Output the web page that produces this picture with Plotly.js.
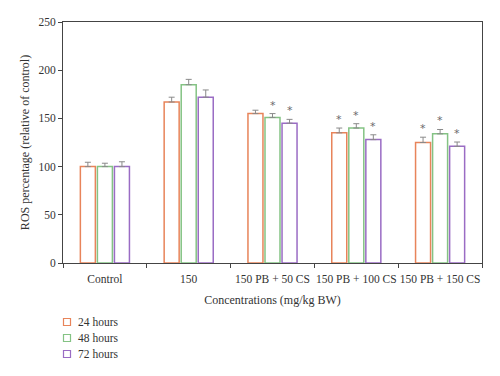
<!DOCTYPE html>
<html>
<head>
<meta charset="utf-8">
<script src="https://cdn.plot.ly/plotly-3.0.1.min.js"></script>
<style>html,body{margin:0;padding:0;background:#fff;}#chart{width:500px;height:376px;}</style>
</head>
<body>
<div id="chart"></div>
<script>
var categories = ['Control', '150', '150 PB + 50 CS', '150 PB + 100 CS', '150 PB + 150 CS'];
var seriesNames = ['24 hours', '48 hours', '72 hours'];
var values24 = [100, 167, 155, 135, 125];
var values48 = [100, 185, 151, 140, 134];
var values72 = [100, 172, 145, 128, 121];
var err24 = [4.5, 5, 3.5, 5, 5.5];
var err48 = [3.5, 5.5, 4, 4.5, 4.5];
var err72 = [5, 7.5, 4, 5, 4.5];
var sig24 = [false, false, false, true, true];
var sig48 = [false, false, true, true, true];
var sig72 = [false, false, true, true, true];
var colors = ['#E8845A', '#84C384', '#9A6CC4'];

var allValues = [values24, values48, values72];
var allErr = [err24, err48, err72];
var allSig = [sig24, sig48, sig72];

var W = 500, H = 376;
var margin = {l: 63, r: 18, t: 22, b: 113, pad: 0};
var bargap = 0.39, bargroupgap = 0.12;
var plotW = W - margin.l - margin.r;
var plotH = H - margin.t - margin.b;
var slotPx = (plotW / categories.length) * (1 - bargap) / 3;

var serif = "'Liberation Serif', 'Times New Roman', serif";
var textColor = '#333333';
var fs = 11.5;
var traces = [];
var annotations = [];
var shapes = [];
for (var s = 0; s < 3; s++) {
  traces.push({
    type: 'bar',
    name: seriesNames[s],
    x: categories,
    y: allValues[s],
    showlegend: false,
    marker: {color: '#ffffff', line: {color: colors[s], width: 1.5}},
    error_y: {type: 'data', symmetric: false, array: allErr[s],
              arrayminus: allErr[s].map(function () { return 0; }),
              visible: true, color: '#8a8a8a', thickness: 1, width: 3}
  });
}
for (var s3 = 0; s3 < 3; s3++) {
  for (var i = 0; i < categories.length; i++) {
    if (allSig[s3][i]) {
      annotations.push({
        x: categories[i], y: allValues[s3][i] + allErr[s3][i],
        xref: 'x', yref: 'y',
        text: '*', showarrow: false,
        xshift: (s3 - 1) * slotPx, yshift: 0,
        yanchor: 'bottom',
        font: {family: 'DejaVu Sans, sans-serif', size: 11, color: '#6a6a6a'}
      });
    }
  }
}
// manual legend below the plot (shapes and annotations do not push margins)
var legendTop = 322, legendStep = 16;
for (var L = 0; L < seriesNames.length; L++) {
  var yPaper = (H - margin.b - (legendTop + legendStep * L)) / plotH;
  shapes.push({
    type: 'rect', xref: 'paper', yref: 'paper',
    xsizemode: 'pixel', ysizemode: 'pixel', xanchor: 0, yanchor: yPaper,
    x0: 0.5, x1: 7.5, y0: -3.5, y1: 3.5,
    line: {color: colors[L], width: 1.2}, fillcolor: '#ffffff'
  });
  annotations.push({
    x: 0, y: yPaper, xref: 'paper', yref: 'paper', xshift: 13,
    xanchor: 'left', yanchor: 'middle', showarrow: false,
    text: seriesNames[L], font: {family: serif, size: fs, color: textColor}
  });
}

var layout = {
  width: W, height: H,
  margin: margin,
  paper_bgcolor: '#fff', plot_bgcolor: '#fff',
  barmode: 'group', bargap: bargap, bargroupgap: bargroupgap,
  font: {family: serif, size: fs, color: textColor},
  showlegend: false,
  xaxis: {
    type: 'category', tickson: 'boundaries', ticks: 'outside', ticklen: 4, tickcolor: '#444',
    tickangle: 0, automargin: false, ticklabelstandoff: 5,
    showline: true, linecolor: '#444', linewidth: 1, mirror: true,
    showgrid: false, zeroline: false,
    tickfont: {family: serif, size: fs, color: textColor},
    title: {text: 'Concentrations (mg/kg BW)', font: {family: serif, size: 12, color: textColor}, standoff: 11}
  },
  yaxis: {
    range: [0, 250], tickvals: [0, 50, 100, 150, 200, 250], ticks: 'outside', ticklen: 4, tickcolor: '#444',
    automargin: false,
    showline: true, linecolor: '#444', linewidth: 1, mirror: true,
    showgrid: false, zeroline: false,
    tickfont: {family: serif, size: fs, color: textColor},
    title: {text: 'ROS percentage (relative of control)', font: {family: serif, size: 12, color: textColor}, standoff: 6}
  },
  shapes: shapes,
  annotations: annotations
};

Plotly.newPlot('chart', traces, layout, {displayModeBar: false, staticPlot: true});
</script>
</body>
</html>
